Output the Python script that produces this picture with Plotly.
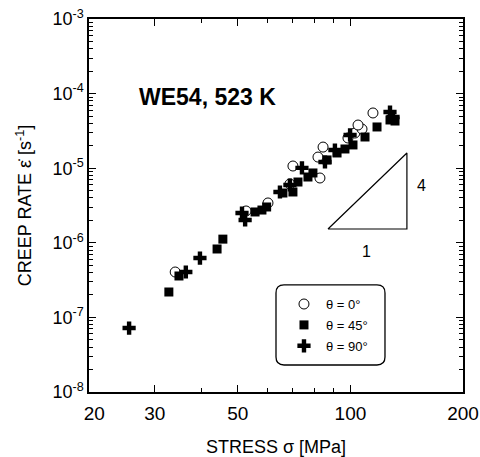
import plotly.graph_objects as go

# theta = 0 deg (open circles)
s0 = [34.0, 52.6, 60.2, 68.9, 70.2, 82.9, 81.9, 84.5, 98.5, 102.8, 107.4, 104.8, 114.9]
e0 = [4.06e-7, 2.67e-6, 3.42e-6, 6.14e-6, 1.07e-5, 7.39e-6, 1.41e-5, 1.92e-5, 2.54e-5, 2.96e-5, 3.35e-5, 3.79e-5, 5.5e-5]

# theta = 45 deg (filled squares)
s45 = [32.7, 34.8, 44.0, 45.6, 55.6, 58.0, 59.7, 66.0, 70.2, 72.4, 77.0, 79.4, 86.6, 92.1, 96.7, 101.6, 109.4, 117.8, 127.6, 131.6]
e45 = [2.19e-7, 3.59e-7, 8.26e-7, 1.12e-6, 2.59e-6, 2.75e-6, 3.02e-6, 4.65e-6, 4.8e-6, 6.53e-6, 7.62e-6, 8.63e-6, 1.29e-5, 1.60e-5, 1.81e-5, 2.05e-5, 2.62e-5, 3.57e-5, 4.43e-5, 4.29e-5]

# theta = 90 deg (crosses)
s90 = [25.6, 36.3, 39.6, 51.3, 52.3, 64.8, 68.9, 74.2, 85.5, 90.9, 99.8, 127.6, 130.0]
e90 = [7.2e-8, 4.06e-7, 6.25e-7, 2.51e-6, 2.02e-6, 4.8e-6, 5.95e-6, 1.01e-5, 1.21e-5, 1.75e-5, 2.79e-5, 5.67e-5, 4.86e-5]

# slope triangle (slope label 4 : 1)
tri_s = [87.1, 141.6, 141.6, 87.1]
tri_e = [1.53e-6, 1.53e-6, 1.6e-5, 1.53e-6]

x_ticks = [20, 30, 50, 100, 200]
x_text = ["\u00a0\u00a020", "30", "50", "100", "200"]
x_minor = [40, 60, 70, 80, 90]
y_ticks = [1e-8, 1e-7, 1e-6, 1e-5, 1e-4, 1e-3]
y_text = ["10<sup>-8</sup>", "10<sup>-7</sup>", "10<sup>-6</sup>", "10<sup>-5</sup>", "10<sup>-4</sup>", "10<sup>-3</sup>"]
y_minor = [m * d for d in [1e-8, 1e-7, 1e-6, 1e-5, 1e-4] for m in range(2, 10)]

font = "Liberation Sans, Arial, sans-serif"
ink = "#000000"

fig = go.Figure()
fig.add_trace(go.Scatter(x=tri_s, y=tri_e, mode="lines", line=dict(color=ink, width=1.2),
                         showlegend=False, hoverinfo="skip"))
fig.add_trace(go.Scatter(x=s0, y=e0, mode="markers", name="θ = 0°", legendgroup="a",
                         marker=dict(symbol="circle", size=10, color="white",
                                     line=dict(color=ink, width=1))))
fig.add_trace(go.Scatter(x=s45, y=e45, mode="markers", name="θ = 45°", legendgroup="b",
                         marker=dict(symbol="square", size=9, color=ink,
                                     line=dict(color=ink, width=0))))
fig.add_trace(go.Scatter(x=s90, y=e90, mode="markers", name="θ = 90°", legendgroup="c",
                         marker=dict(symbol="cross", size=11, color=ink,
                                     line=dict(color=ink, width=0))))

fig.update_layout(
    width=480, height=457,
    margin=dict(l=89, r=17, t=19, b=65),
    paper_bgcolor="white", plot_bgcolor="white",
    font=dict(family=font, color=ink, size=15),
    showlegend=True,
    legend=dict(x=0.516, y=0.276, xanchor="left", yanchor="top",
                bgcolor="rgba(0,0,0,0)", borderwidth=0,
                font=dict(size=13, family=font, color=ink),
                itemwidth=34, tracegroupgap=1),
    xaxis=dict(type="log", range=[1.30103, 2.30103], automargin=False,
               tickvals=x_ticks, ticktext=x_text, ticklabeloverflow="allow",
               ticks="inside", ticklen=7, tickwidth=1, tickcolor=ink,
               minor=dict(tickvals=x_minor, ticks="inside", ticklen=4, tickcolor=ink, tickwidth=1),
               showline=True, linecolor=ink, linewidth=1.5, mirror="ticks",
               showgrid=False, zeroline=False,
               tickfont=dict(size=19), ticklabelstandoff=3,
               title=dict(text="STRESS σ [MPa]", font=dict(size=18), standoff=22)),
    yaxis=dict(type="log", range=[-8, -3], automargin=False,
               tickvals=y_ticks, ticktext=y_text, ticklabeloverflow="allow",
               ticks="inside", ticklen=7, tickwidth=1, tickcolor=ink,
               minor=dict(tickvals=y_minor, ticks="inside", ticklen=4, tickcolor=ink, tickwidth=1),
               showline=True, linecolor=ink, linewidth=1.5, mirror="ticks",
               showgrid=False, zeroline=False,
               tickfont=dict(size=18),
               title=dict(text="CREEP RATE ε̇ [s<sup>-1</sup>]", font=dict(size=18), standoff=16)),
    shapes=[
        dict(type="path", xref="paper", yref="paper",
             path="M 0.5214,0.287 L 0.7700,0.287 Q 0.7914,0.287 0.7914,0.2656 L 0.7914,0.0938 Q 0.7914,0.0724 0.7700,0.0724 L 0.5214,0.0724 Q 0.5,0.0724 0.5,0.0938 L 0.5,0.2656 Q 0.5,0.287 0.5214,0.287 Z",
             line=dict(color=ink, width=1.3), fillcolor="rgba(0,0,0,0)"),
    ],
    annotations=[
        dict(text="<b>WE54, 523 K</b>", xref="paper", yref="paper", x=0.128, y=0.79,
             xanchor="left", yanchor="middle", showarrow=False, font=dict(size=23, color=ink)),
        dict(text="4", xref="paper", yref="paper", x=0.89, y=0.553,
             xanchor="center", yanchor="middle", showarrow=False, font=dict(size=16, color=ink)),
        dict(text="1", xref="paper", yref="paper", x=0.743, y=0.378,
             xanchor="center", yanchor="middle", showarrow=False, font=dict(size=16, color=ink)),
    ],
)

# remove the page's default body margin so the 480x457 figure fills the window exactly
fig.write_html("out.html",
               config={"displayModeBar": False},
               post_script="document.body.style.margin='0';document.body.style.overflow='hidden';")
